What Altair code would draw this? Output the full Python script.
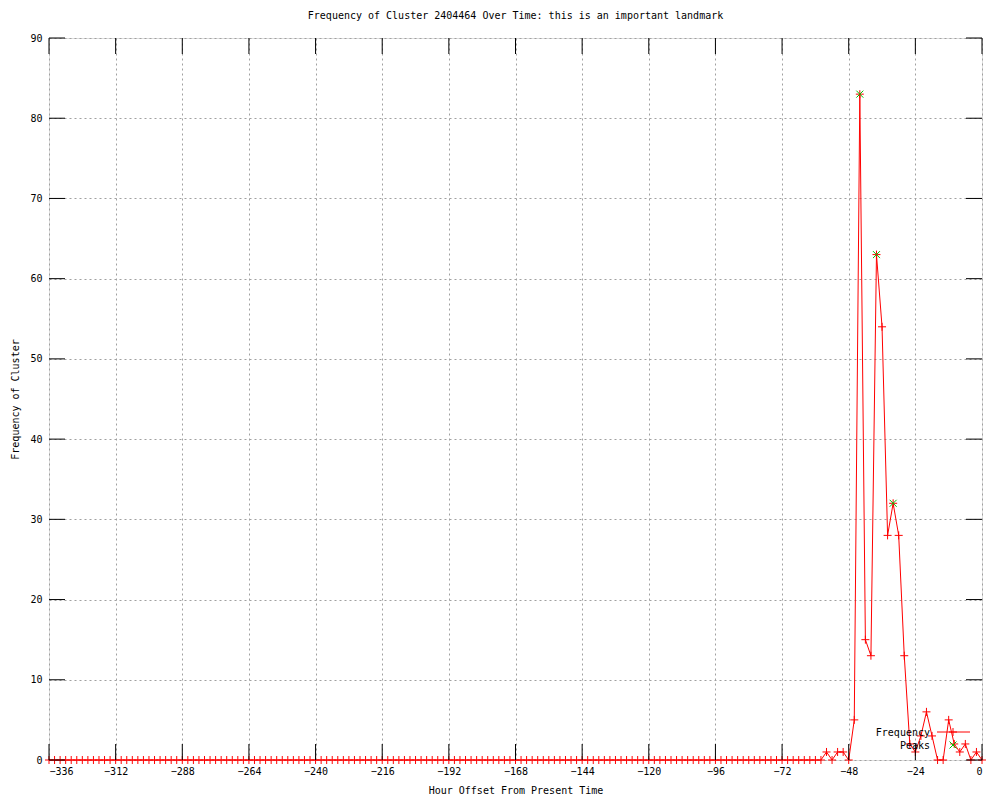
import altair as alt
import pandas as pd

# ---- data ----
hours = list(range(-336, 1, 2))
freq = [0] * 140 + [1, 0, 1, 1, 0, 5, 83, 15, 13, 63, 54, 28, 32, 28, 13,
                    2, 1, 3, 6, 3, 0, 0, 5, 2, 1, 2, 0, 1, 0]
peak_hours = [-44, -38, -32]
peak_values = [83, 63, 32]
x_ticks = list(range(-336, 1, 24))
y_ticks = list(range(0, 91, 10))
legend_names = ["Frequency", "Peaks"]

W, H = 933, 722
FONT = "DejaVu Sans Mono"
PLUS = "M-1,0L1,0M0,-1L0,1"
XSH = "M-1,-1L1,1M-1,1L1,-1"
RED = "#ff0000"
GREEN = "#00c000"
GRID = dict(grid=True, gridColor="#a0a0a0", gridDash=[2, 3], gridWidth=1, gridOpacity=1,
            ticks=False, domain=False, labelFont=FONT, labelFontSize=10,
            labelColor="black", titleFont=FONT, titleFontSize=10,
            titleFontWeight="normal", titleColor="black", format="d")

df = pd.DataFrame({"t": hours, "v": freq})
pk = pd.DataFrame({"t": peak_hours, "v": peak_values})
xt = pd.DataFrame({"t": x_ticks})
yt = pd.DataFrame({"v": y_ticks})
one = pd.DataFrame({"name": legend_names[:1]})

xs = alt.Scale(domain=[-336, 0], nice=False, zero=False)
ys = alt.Scale(domain=[0, 90], nice=False)

X = alt.X("t:Q", scale=xs,
          axis=alt.Axis(values=x_ticks, title="Hour Offset From Present Time",
                        labelPadding=6, titlePadding=9, **GRID))
Y = alt.Y("v:Q", scale=ys,
          axis=alt.Axis(values=y_ticks, title="Frequency of Cluster",
                        labelPadding=7, titlePadding=9, **GRID))
Xn = alt.X("t:Q", scale=xs)
Yn = alt.Y("v:Q", scale=ys)

line = alt.Chart(df).mark_line(color=RED, strokeWidth=1).encode(x=X, y=Y)
pts = alt.Chart(df).mark_point(shape=PLUS, color=RED, size=64, strokeWidth=1,
                               filled=False, opacity=1).encode(x=Xn, y=Yn)
peaks = alt.Chart(pk).mark_point(shape=XSH, color=GREEN, size=49, strokeWidth=1,
                                 filled=False, opacity=1).encode(x=Xn, y=Yn)

TL = 16
tick_b = alt.Chart(xt).mark_rule(color="black").encode(
    x=Xn, y=alt.value(H), y2=alt.value(H - TL))
tick_t = alt.Chart(xt).mark_rule(color="black").encode(
    x=Xn, y=alt.value(0), y2=alt.value(TL))
tick_l = alt.Chart(yt).mark_rule(color="black").encode(
    y=Yn, x=alt.value(0), x2=alt.value(TL))
tick_r = alt.Chart(yt).mark_rule(color="black").encode(
    y=Yn, x=alt.value(W), x2=alt.value(W - TL))

# legend (gnuplot style: text left, sample right)
leg_t1 = alt.Chart(one).mark_text(text=legend_names[0], align="right", baseline="middle",
                                  font=FONT, fontSize=10, color="black").encode(
    x=alt.value(881), y=alt.value(695))
leg_t2 = alt.Chart(one).mark_text(text=legend_names[1], align="right", baseline="middle",
                                  font=FONT, fontSize=10, color="black").encode(
    x=alt.value(881), y=alt.value(708))
leg_line = alt.Chart(one).mark_rule(color=RED, strokeWidth=1).encode(
    x=alt.value(888), x2=alt.value(921), y=alt.value(694))
leg_plus = alt.Chart(one).mark_point(shape=PLUS, color=RED, size=64, strokeWidth=1,
                                     opacity=1).encode(x=alt.value(904), y=alt.value(694))
leg_x = alt.Chart(one).mark_point(shape=XSH, color=GREEN, size=49, strokeWidth=1,
                                  opacity=1).encode(x=alt.value(904), y=alt.value(707))

chart = alt.layer(
    line, pts, peaks, tick_b, tick_t, tick_l, tick_r,
    leg_t1, leg_t2, leg_line, leg_plus, leg_x
).properties(
    width=W, height=H,
    title=alt.TitleParams("Frequency of Cluster 2404464 Over Time: this is an important landmark",
                          font=FONT, fontSize=10, fontWeight="normal", anchor="middle",
                          offset=12, color="black"),
    autosize=alt.AutoSizeParams(type="none"),
    padding={"left": 41, "top": 30, "right": 10, "bottom": 38},
).configure_view(stroke="black", strokeWidth=1, fill="white").configure(background="white")

chart.save("out.html", embed_options={"renderer": "svg", "actions": False})
